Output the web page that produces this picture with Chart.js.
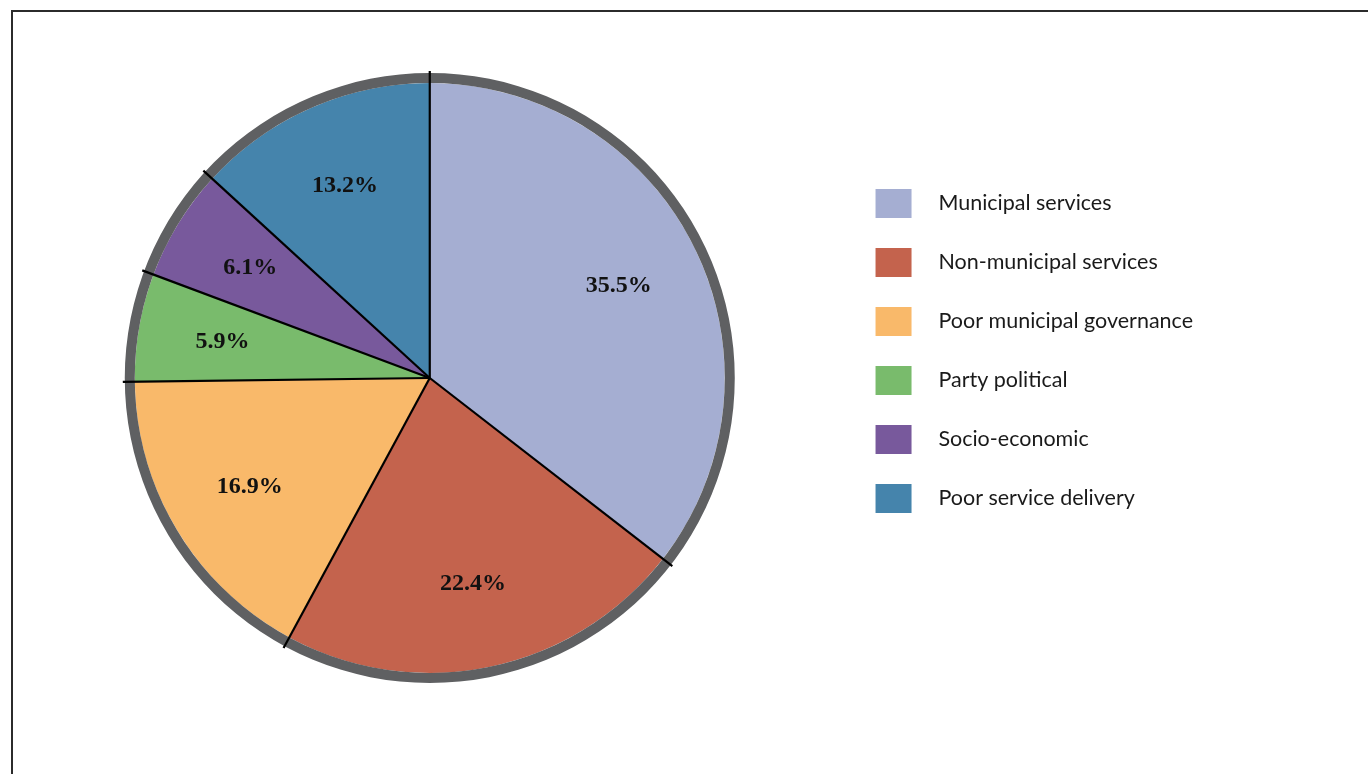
<!DOCTYPE html>
<html>
<head>
<meta charset="utf-8">
<script src="https://cdn.jsdelivr.net/npm/chart.js@4/dist/chart.umd.min.js"></script>
<style>
  html, body { margin: 0; padding: 0; background: #fff; overflow: hidden; }
  #wrap { position: relative; width: 1368px; height: 774px; }
  #frame { position: absolute; left: 11px; top: 10px; width: 1400px; height: 800px;
           border-top: 2px solid #2b2b2b; border-left: 2px solid #2b2b2b; box-sizing: border-box; pointer-events: none; }
  canvas { position: absolute; left: 0; top: 0; }
</style>
</head>
<body>
<div id="wrap">
  <canvas id="c" width="1368" height="774"></canvas>
  <div id="frame"></div>
</div>
<script>
const categories = ['Municipal services', 'Non-municipal services', 'Poor municipal governance', 'Party political', 'Socio-economic', 'Poor service delivery'];
const shares = [35.5, 22.4, 16.9, 5.9, 6.1, 13.2];
const sliceColors = ['#a5aed2', '#c4634d', '#f9b96a', '#79bb6c', '#78599c', '#4584ac'];
const ringValue = [100];
const ringColor = '#5f6062';

const sepAndLabels = {
  id: 'sepAndLabels',
  afterDatasetsDraw(chart) {
    const ctx = chart.ctx;
    const ringMeta = chart.getDatasetMeta(0);
    const meta = chart.getDatasetMeta(1);
    const R = ringMeta.data[0].outerRadius;
    ctx.save();
    ctx.strokeStyle = '#000';
    ctx.lineWidth = 2.2;
    meta.data.forEach(arc => {
      const a = arc.startAngle;
      ctx.beginPath();
      ctx.moveTo(arc.x, arc.y);
      ctx.lineTo(arc.x + Math.cos(a) * (R + 2), arc.y + Math.sin(a) * (R + 2));
      ctx.stroke();
    });
    ctx.fillStyle = '#111';
    ctx.font = 'bold 24px "Liberation Serif", "DejaVu Serif", serif';
    ctx.textAlign = 'center';
    ctx.textBaseline = 'middle';
    meta.data.forEach((arc, i) => {
      const mid = (arc.startAngle + arc.endAngle) / 2;
      const r = R * 0.69;
      ctx.fillText(shares[i].toFixed(1) + '%', arc.x + Math.cos(mid) * r, arc.y + Math.sin(mid) * r);
    });
    ctx.restore();
  }
};

new Chart(document.getElementById('c'), {
  type: 'pie',
  data: {
    labels: categories,
    datasets: [
      { data: ringValue, backgroundColor: ringColor, borderWidth: 0, weight: 10, radius: 305, hoverOffset: 0 },
      { data: shares, backgroundColor: sliceColors, borderWidth: 0, weight: 295, radius: 305, hoverOffset: 0 }
    ]
  },
  options: {
    responsive: false,
    animation: false,
    events: [],
    layout: { padding: { left: 14, right: 165, top: 0, bottom: 18 } },
    plugins: {
      tooltip: { enabled: false },
      legend: {
        position: 'right',
        align: 'start',
        title: { display: true, text: ' ', padding: { top: 0, bottom: 144.6 }, font: { size: 12 } },
        labels: {
          boxWidth: 36,
          boxHeight: 29,
          padding: 30,
          color: '#1a1a1a',
          font: { family: 'Lato, "Noto Sans", sans-serif', size: 21.5 },
          generateLabels(chart) {
            return categories.map((label, i) => ({
              text: '\u2002\u2005' + label,
              fillStyle: sliceColors[i],
              strokeStyle: sliceColors[i],
              fontColor: '#1a1a1a',
              lineWidth: 0,
              hidden: false,
              index: i,
              datasetIndex: 1
            }));
          }
        }
      }
    }
  },
  plugins: [sepAndLabels]
});
</script>
</body>
</html>
